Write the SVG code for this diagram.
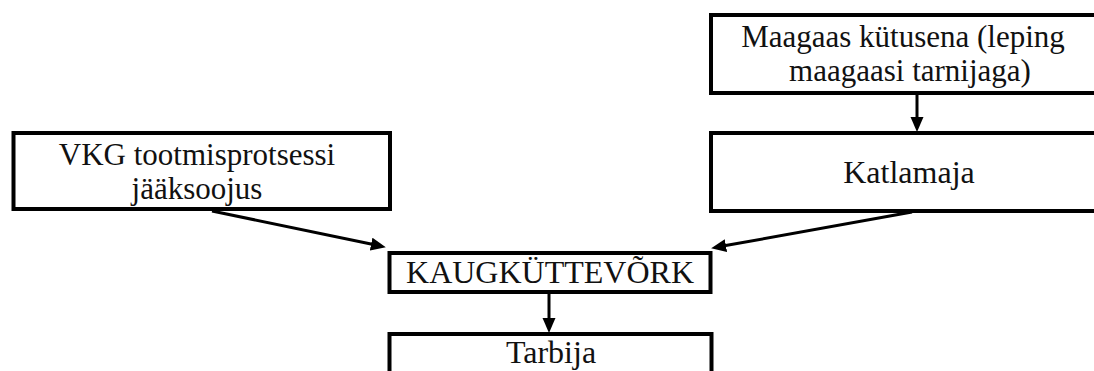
<svg xmlns="http://www.w3.org/2000/svg" width="1094" height="371" viewBox="0 0 1094 371">
<style>
.box{fill:#fff;stroke:#000;stroke-width:4}
.t{font-family:"Liberation Serif","Times New Roman",serif;font-size:32px;fill:#111;text-anchor:middle}
.t2{font-size:31px}
.c{stroke:#000;stroke-width:3;fill:none}
</style>
<defs>
<marker id="ah" markerUnits="userSpaceOnUse" markerWidth="16" markerHeight="14" refX="6" refY="6.5" orient="auto">
<path d="M0,0 L15,6.5 L0,13 z" fill="#000"/>
</marker>
</defs>
<rect width="1094" height="371" fill="#fff"/>
<g id="maagaas">
<rect class="box" x="711" y="15" width="400" height="78"/>
<text class="t t2" x="903" y="47">Maagaas kütusena (leping</text>
<text class="t t2" x="910" y="81">maagaasi tarnijaga)</text>
</g>
<g id="katlamaja">
<rect class="box" x="711" y="133" width="400" height="78"/>
<text class="t" x="909" y="183">Katlamaja</text>
</g>
<g id="vkg">
<rect class="box" x="13.5" y="133" width="376.5" height="76"/>
<text class="t t2" x="197" y="165">VKG tootmisprotsessi</text>
<text class="t t2" x="197" y="199">jääksoojus</text>
</g>
<g id="kaugkuttevork">
<rect class="box" x="389.5" y="253" width="321" height="39"/>
<text class="t" x="550" y="283">KAUGKÜTTEVÕRK</text>
</g>
<g id="tarbija">
<rect class="box" x="389.5" y="334" width="322" height="60"/>
<text class="t" x="551" y="363">Tarbija</text>
</g>
<g id="connectors">
<line class="c" x1="917" y1="94" x2="917" y2="123" marker-end="url(#ah)"/>
<line class="c" x1="212" y1="211" x2="377" y2="245.3" marker-end="url(#ah)"/>
<line class="c" x1="912" y1="212" x2="720" y2="246.6" marker-end="url(#ah)"/>
<line class="c" x1="549" y1="294" x2="549" y2="324" marker-end="url(#ah)"/>
</g>
</svg>
